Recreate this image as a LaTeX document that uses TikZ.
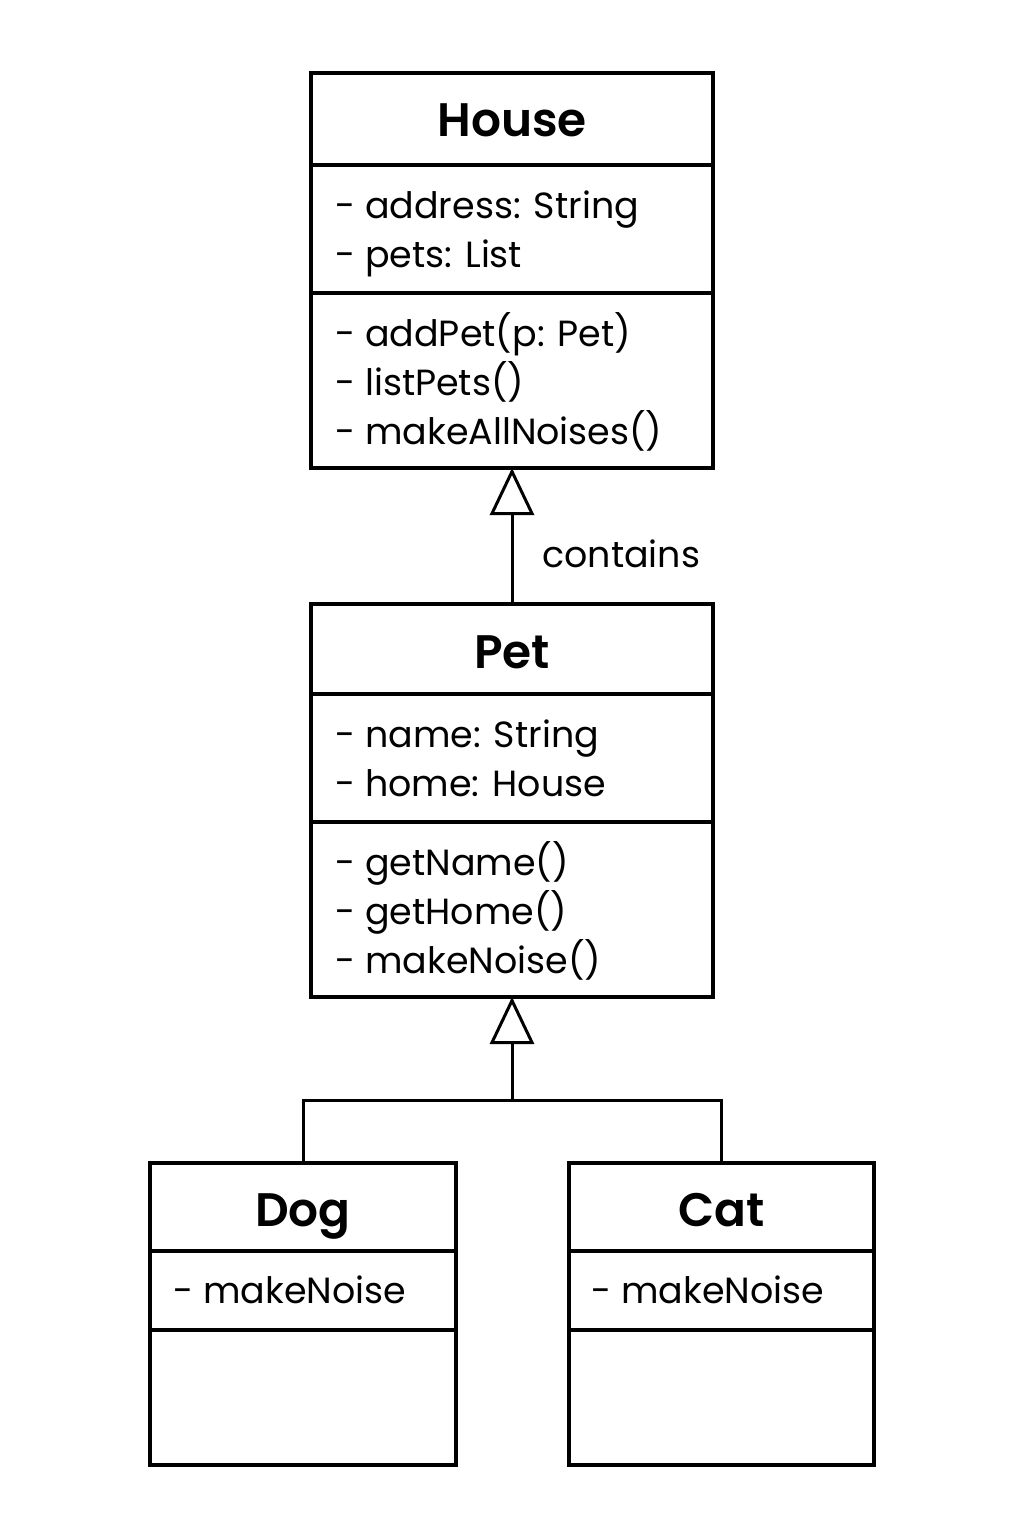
\documentclass[tikz,border=0pt]{standalone}
\usepackage{fontspec}
\setmainfont{Poppins}[BoldFont={Poppins SemiBold}]
\usetikzlibrary{arrows.meta}
\begin{document}
\begin{tikzpicture}[x=0.5pt,y=-0.5pt,
  cls/.style={draw,line width=1.7pt,inner sep=0pt,outer sep=0pt},
  ttl/.style={font=\fontsize{23.5}{28}\selectfont\bfseries,anchor=base,inner sep=0pt},
  itm/.style={font=\fontsize{18.2}{22}\selectfont,anchor=base west,inner sep=0pt},
  dv/.style={line width=1.7pt},
  gen/.style={line width=1.5pt,-{Triangle[open,length=23.5pt,width=22pt,line width=1.5pt]}},
  ln/.style={line width=1.5pt}]
\useasboundingbox (0,0) rectangle (1024,1536);
\fill[white] (0,0) rectangle (1024,1536);
% House
\node[cls,minimum width=201pt,minimum height=197.5pt] (house) at (512,270.5) {};
\draw[dv] (house.west |- 0,165) -- (house.east |- 0,165);
\draw[dv] (house.west |- 0,293) -- (house.east |- 0,293);
\node[ttl] (houset) at (512,137) {House};
\node[itm] (h1) at (335,218) {- address: String};
\node[itm] (h2) at (335,267) {- pets: List};
\node[itm] (h3) at (335,346) {- addPet(p: Pet)};
\node[itm] (h4) at (335,395) {- listPets()};
\node[itm] (h5) at (335,444) {- makeAllNoises()};
% Pet
\node[cls,minimum width=201pt,minimum height=196.5pt] (pet) at (512,800.5) {};
\draw[dv] (pet.west |- 0,694) -- (pet.east |- 0,694);
\draw[dv] (pet.west |- 0,822) -- (pet.east |- 0,822);
\node[ttl] (pett) at (512,668) {Pet};
\node[itm] (p1) at (335,747) {- name: String};
\node[itm] (p2) at (335,796) {- home: House};
\node[itm] (p3) at (335,875) {- getName()};
\node[itm] (p4) at (335,924) {- getHome()};
\node[itm] (p5) at (335,973) {- makeNoise()};
% Dog
\node[cls,minimum width=153pt,minimum height=151pt] (dog) at (303,1314) {};
\draw[dv] (dog.west |- 0,1251) -- (dog.east |- 0,1251);
\draw[dv] (dog.west |- 0,1330) -- (dog.east |- 0,1330);
\node[ttl] (dogt) at (303,1226) {Dog};
\node[itm] (d1) at (173,1303) {- makeNoise};
% Cat
\node[cls,minimum width=152.5pt,minimum height=151pt] (cat) at (721.5,1314) {};
\draw[dv] (cat.west |- 0,1251) -- (cat.east |- 0,1251);
\draw[dv] (cat.west |- 0,1330) -- (cat.east |- 0,1330);
\node[ttl] (catt) at (721.5,1226) {Cat};
\node[itm] (c1) at (591,1303) {- makeNoise};
% connectors
\draw[gen] (pet.north) -- (house.south);
\node[itm] (lbl) at (542,567) {contains};
\coordinate (jn) at (512,1100);
\draw[ln] (dog.north) |- (jn) -| (cat.north);
\draw[gen] (jn) -- (pet.south);
\end{tikzpicture}
\end{document}
